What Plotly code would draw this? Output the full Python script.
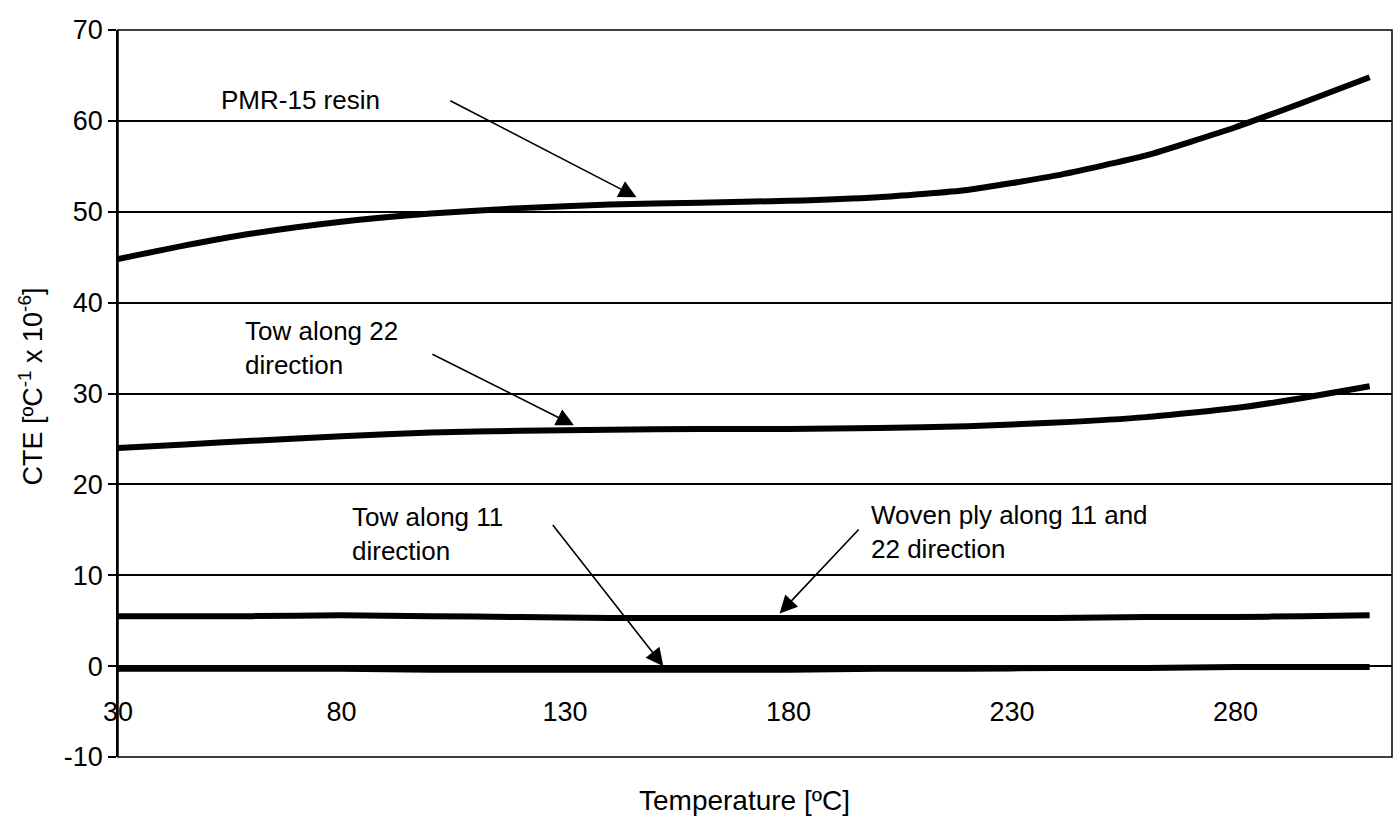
import plotly.graph_objects as go

# Temperature sampling points [ºC]
temperature = [30, 45, 60, 80, 100, 120, 140, 160, 180, 200, 220, 240, 260, 280, 295, 310]

# Coefficient of thermal expansion [1/ºC x 1e-6]
pmr15_resin = [44.8, 46.3, 47.6, 48.9, 49.8, 50.4, 50.8, 51.0, 51.2, 51.6, 52.4, 54.0, 56.2, 59.3, 62.0, 64.8]
tow_22 = [24.0, 24.4, 24.8, 25.3, 25.7, 25.9, 26.0, 26.1, 26.1, 26.2, 26.4, 26.8, 27.4, 28.4, 29.5, 30.8]
woven_ply = [5.5, 5.5, 5.5, 5.6, 5.5, 5.4, 5.3, 5.3, 5.3, 5.3, 5.3, 5.3, 5.4, 5.4, 5.5, 5.6]
tow_11 = [-0.3, -0.3, -0.3, -0.3, -0.4, -0.4, -0.4, -0.4, -0.4, -0.3, -0.3, -0.2, -0.2, -0.1, -0.1, -0.1]

x_ticks = [30, 80, 130, 180, 230, 280]
y_ticks = [-10, 0, 10, 20, 30, 40, 50, 60, 70]

FONT = "Liberation Sans, Arial, sans-serif"

fig = go.Figure()
for series in (pmr15_resin, tow_22, woven_ply, tow_11):
    fig.add_trace(go.Scatter(
        x=temperature, y=series, mode="lines",
        line=dict(color="black", width=6, shape="spline", smoothing=0.5),
        showlegend=False, hoverinfo="skip",
    ))

# Callout labels with arrows pointing at each curve
labels = [
    # text, text x, text y, arrow tail (x, y), arrow tip (x, y)
    ("PMR-15 resin", 52.7, 62.3, (104, 62.3), (146, 51.6)),
    ("Tow along 22<br>direction", 58, 35.0, (100, 34.4), (132, 26.5)),
    ("Tow along 11<br>direction", 82, 14.5, (127, 15.7), (152, 0.0)),
    ("Woven ply along 11 and<br>22 direction", 198, 14.8, (196, 15.2), (178, 5.8)),
]
for text, tx, ty, tail, tip in labels:
    fig.add_annotation(
        x=tx, y=ty, xref="x", yref="y", text=text, showarrow=False,
        xanchor="left", yanchor="middle", align="left",
        font=dict(family=FONT, size=26, color="black"),
    )
    fig.add_annotation(
        x=tip[0], y=tip[1], ax=tail[0], ay=tail[1],
        xref="x", yref="y", axref="x", ayref="y", text="",
        showarrow=True, arrowhead=2, arrowsize=2.2, arrowwidth=1.6,
        arrowcolor="black",
    )

# Axis titles
fig.add_annotation(
    x=0.492, y=-0.06, xref="paper", yref="paper", showarrow=False,
    text="Temperature [ºC]", xanchor="center", yanchor="middle",
    font=dict(family=FONT, size=28, color="black"),
)
fig.add_annotation(
    x=-0.068, y=0.51, xref="paper", yref="paper", showarrow=False,
    text="CTE [ºC<sup>-1</sup> x 10<sup>-6</sup>]", textangle=-90,
    xanchor="center", yanchor="middle",
    font=dict(family=FONT, size=27, color="black"),
)

# Plot frame
fig.add_shape(type="rect", xref="paper", yref="paper", x0=0, y0=0, x1=1, y1=1,
              line=dict(color="black", width=1.5), layer="above")

fig.update_layout(
    width=1400, height=823,
    margin=dict(l=118, r=8, t=30, b=66),
    paper_bgcolor="white", plot_bgcolor="white",
    font=dict(family=FONT, size=26, color="black"),
    xaxis=dict(
        range=[30, 315], anchor="free", position=0.125,
        tickmode="array", tickvals=x_ticks, ticktext=[str(v) for v in x_ticks],
        showgrid=False, zeroline=False, showline=False, ticks="",
        ticklabelstandoff=27,
        tickfont=dict(family=FONT, size=27, color="black"),
    ),
    yaxis=dict(
        range=[-10, 70], tickmode="array", tickvals=y_ticks,
        ticktext=[str(v) for v in y_ticks],
        showgrid=True, gridcolor="black", gridwidth=1.5,
        zeroline=False, showline=True, linecolor="black", linewidth=1.5,
        ticks="outside", ticklen=8, tickcolor="black", tickwidth=1.5,
        tickfont=dict(family=FONT, size=27, color="black"),
    ),
)

fig.write_html("out.html")
